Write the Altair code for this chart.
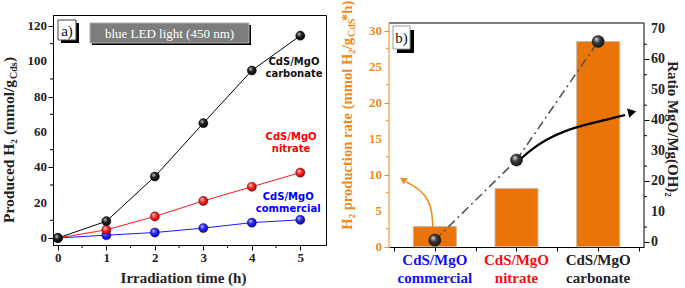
import altair as alt
import pandas as pd

# ---------------- data ----------------
hours = [0, 1, 2, 3, 4, 5]
h2_carbonate = [0.0, 9.5, 34.8, 65.0, 94.8, 114.5]
h2_nitrate = [0.0, 4.6, 12.2, 21.0, 29.0, 37.0]
h2_commercial = [0.0, 1.6, 3.1, 5.6, 8.7, 10.3]
series_names = ["carbonate", "nitrate", "commercial"]
series_colors = ["#000000", "#ff1a1a", "#1a1aff"]

label_text = ["CdS/MgO\ncarbonate", "CdS/MgO\nnitrate", "CdS/MgO\ncommercial"]
label_x = [4.87, 4.81, 4.75]
label_y = [99.6, 57.4, 23.2]
label_colors = ["#111111", "#ff0000", "#0000ff"]

samples = ["commercial", "nitrate", "carbonate"]
sample_pos = [0, 1, 2]
rate = [2.8, 8.1, 28.5]
ratio = [0.7, 27.0, 65.9]
sample_label = ["CdS/MgO\ncommercial", "CdS/MgO\nnitrate", "CdS/MgO\ncarbonate"]
sample_colors = ["#1010ee", "#ee1010", "#222222"]

# tick values
h_ticks = [0, 1, 2, 3, 4, 5]
h_minor = [0.5, 1.5, 2.5, 3.5, 4.5]
h2_ticks = [0, 20, 40, 60, 80, 100, 120]
h2_minor = [10, 30, 50, 70, 90, 110]
rate_ticks = [0, 5, 10, 15, 20, 25, 30]
rate_minor = [2.5, 7.5, 12.5, 17.5, 22.5, 27.5]
ratio_ticks = [0, 10, 20, 30, 40, 50, 60, 70]
ratio_minor = [5, 15, 25, 35, 45, 55, 65]

# curved annotation arrows (data coordinates of the right panel)
arrow_black_x = [1.035, 1.176, 1.353, 1.588, 1.882, 2.141, 2.33]
arrow_black_y = [27.0, 30.3, 33.6, 36.6, 38.9, 40.5, 41.8]
arrow_black_head = (2.40, 42.6, 76)
arrow_orange_x = [-0.024, -0.035, -0.082, -0.176, -0.294, -0.35]
arrow_orange_y = [2.75, 4.95, 6.6, 7.84, 8.67, 9.0]
arrow_orange_head = (-0.38, 9.25, 300)

ORANGE = "#f28a1a"
SERIF = "Liberation Serif"

# ---------------- helpers ----------------
def ball(light, mid, dark):
    return alt.RadialGradient(
        gradient="radial",
        stops=[alt.GradientStop(offset=0, color=light),
               alt.GradientStop(offset=0.45, color=mid),
               alt.GradientStop(offset=1, color=dark)],
        x1=0.35, y1=0.3, r1=0, x2=0.45, y2=0.45, r2=0.6)

def box(x, x2, y, y2, fill, stroke=None):
    kw = dict(fill=fill)
    if stroke:
        kw.update(stroke=stroke, strokeWidth=1)
    return alt.Chart().mark_rect(**kw).encode(
        x=alt.value(x), x2=alt.value(x2), y=alt.value(y), y2=alt.value(y2))

def txt(s, x, y, **kw):
    return alt.Chart().mark_text(text=s, **kw).encode(x=alt.value(x), y=alt.value(y))

def minor_y(vals, scale, x0, x1, color):
    return alt.Chart(pd.DataFrame({"v": vals})).mark_rule(color=color, strokeWidth=1).encode(
        y=alt.Y("v:Q", scale=scale), x=alt.value(x0), x2=alt.value(x1))

def minor_x(vals, scale, y0, y1, color):
    return alt.Chart(pd.DataFrame({"v": vals})).mark_rule(color=color, strokeWidth=1).encode(
        x=alt.X("v:Q", scale=scale), y=alt.value(y0), y2=alt.value(y1))

def y_labels(vals, scale, x, align, color, size):
    return alt.Chart(pd.DataFrame({"v": vals})).mark_text(
        font=SERIF, fontWeight="bold", fontSize=size, align=align, baseline="middle", color=color
    ).encode(y=alt.Y("v:Q", scale=scale), x=alt.value(x), text=alt.Text("v:Q", format="d"))

# ---------------- left panel ----------------
LW, LH = 273, 230
df_h2 = pd.DataFrame({
    "hour": hours * 3,
    "h2": h2_carbonate + h2_nitrate + h2_commercial,
    "series": sum([[s] * len(hours) for s in series_names], []),
})
xs = alt.Scale(domain=[-0.1, 5.53], nice=False, zero=False)
ys = alt.Scale(domain=[-3.96, 126.2], nice=False, zero=False)

x_axis_l = alt.Axis(
    values=h_ticks, format="d", labelOverlap=False,
    title="Irradiation time (h)", titleFont=SERIF, titleFontSize=15, titleFontWeight="bold",
    titleColor="#222", titlePadding=6, titleX=130,
    labelFont=SERIF, labelFontSize=13, labelFontWeight="bold", labelColor="#222",
    labelPadding=1, grid=False, domainColor="#000", tickColor="#000", tickSize=5,
)
y_axis_l = alt.Axis(
    values=h2_ticks, labels=False, title=None, grid=False,
    domainColor="#000", tickColor="#000", tickSize=5,
)

base_l = alt.Chart(df_h2)
lines = base_l.mark_line(strokeWidth=1).encode(
    x=alt.X("hour:Q", scale=xs, axis=x_axis_l),
    y=alt.Y("h2:Q", scale=ys, axis=y_axis_l),
    color=alt.Color("series:N", scale=alt.Scale(domain=series_names, range=series_colors), legend=None),
)
ball_styles = {
    "commercial": ball("#c8c8ff", "#2a2aff", "#0000a0"),
    "nitrate": ball("#ffd0d0", "#ff2a2a", "#a00000"),
    "carbonate": ball("#d0d0d0", "#202020", "#000000"),
}
points = [
    base_l.transform_filter(alt.datum.series == s).mark_point(
        filled=True, size=85, fill=ball_styles[s], stroke="#111", strokeWidth=0.4, opacity=1
    ).encode(x=alt.X("hour:Q", scale=xs), y=alt.Y("h2:Q", scale=ys))
    for s in ["commercial", "nitrate", "carbonate"]
]
df_lab = pd.DataFrame({"x": label_x, "y": label_y, "t": label_text, "c": label_colors})
labels_l = alt.Chart(df_lab).mark_text(
    font="DejaVu Sans", fontWeight="bold", fontSize=10, lineBreak="\n", lineHeight=12,
    align="center", baseline="middle",
).encode(x=alt.X("x:Q", scale=xs), y=alt.Y("y:Q", scale=ys), text="t:N",
         color=alt.Color("c:N", scale=None))

deco_l = [
    minor_y(h2_minor, ys, -3, 0, "#000"),
    minor_x(h_minor, xs, LH, LH + 3, "#000"),
    y_labels(h2_ticks, ys, -6, "right", "#222", 13),
    box(8, 26, 8, 28, "#000"),
    box(5, 23, 5, 25, "#fff", "#444"),
    txt("a)", 14, 15.5, font=SERIF, fontSize=15, baseline="middle", align="center", color="#111"),
    box(39, 198, 10, 30, "#000"),
    box(37, 196, 8, 28, "#7d7d7d", "#b0b0b0"),
    txt("blue LED light (450 nm)", 116.5, 18.5, font=SERIF, fontSize=13, baseline="middle",
        align="center", color="#fff"),
    txt("Produced H\u2082 (mmol/g", -39, 65, font=SERIF, fontSize=15.5, fontWeight="bold",
        angle=270, align="right", baseline="alphabetic", color="#222"),
    txt("Cds", -36, 64, font=SERIF, fontSize=10, fontWeight="bold",
        angle=270, align="left", baseline="alphabetic", color="#222"),
    txt(")", -39, 47, font=SERIF, fontSize=15.5, fontWeight="bold",
        angle=270, align="left", baseline="alphabetic", color="#222"),
]

left = alt.layer(lines, *points, labels_l, *deco_l).properties(
    width=LW, height=LH, view=alt.ViewBackground(stroke="#000", strokeWidth=1))

# ---------------- right panel ----------------
RW, RH = 255, 232
xr = alt.Scale(domain=[-0.5, 2.5], nice=False, zero=False)
yr_rate = alt.Scale(domain=[-0.04, 32.18], nice=False, zero=False)
yr_ratio = alt.Scale(domain=[-1.54, 74.6], nice=False, zero=False)

df_s = pd.DataFrame({"pos": sample_pos, "name": samples, "rate": rate, "ratio": ratio,
                     "lab": sample_label, "c": sample_colors})

x_axis_r = alt.Axis(
    values=[-0.5, 0, 0.5, 1, 1.5, 2, 2.5], labels=False, title=None, grid=False,
    domainColor="#000", tickColor="#000", tickSize=4,
)
y_axis_rate = alt.Axis(
    values=rate_ticks, labels=False, title=None, grid=False, domain=False,
    tickColor=ORANGE, tickSize=5,
)
y_axis_ratio = alt.Axis(
    values=ratio_ticks, orient="right", labels=False, title=None, grid=False, domain=False,
    tickColor="#000", tickSize=5,
)

base_r = alt.Chart(df_s)
bars = base_r.mark_bar(size=43, fill="#ea7406", stroke="#c9b8a8", strokeWidth=1).encode(
    x=alt.X("pos:Q", scale=xr, axis=x_axis_r),
    y=alt.Y("rate:Q", scale=yr_rate, axis=y_axis_rate),
    y2=alt.datum(0),
)
df_ao = pd.DataFrame({"x": arrow_orange_x, "y": arrow_orange_y, "i": range(len(arrow_orange_x))})
arrow_o = alt.Chart(df_ao).mark_line(color=ORANGE, strokeWidth=1.6, interpolate="basis").encode(
    x=alt.X("x:Q", scale=xr), y=alt.Y("y:Q", scale=yr_rate), order="i:Q")
head_o = alt.Chart(pd.DataFrame({"x": [arrow_orange_head[0]], "y": [arrow_orange_head[1]]})).mark_point(
    shape="triangle", filled=True, size=55, color=ORANGE, opacity=1, angle=arrow_orange_head[2]
).encode(x=alt.X("x:Q", scale=xr), y=alt.Y("y:Q", scale=yr_rate))

ratio_line = base_r.mark_line(color="#555", strokeWidth=1.6, strokeDash=[9, 4, 2, 4]).encode(
    x=alt.X("pos:Q", scale=xr), y=alt.Y("ratio:Q", scale=yr_ratio, axis=y_axis_ratio))
df_ab = pd.DataFrame({"x": arrow_black_x, "y": arrow_black_y, "i": range(len(arrow_black_x))})
arrow_b = alt.Chart(df_ab).mark_line(color="#000", strokeWidth=2.2, interpolate="basis").encode(
    x=alt.X("x:Q", scale=xr), y=alt.Y("y:Q", scale=yr_ratio), order="i:Q")
head_b = alt.Chart(pd.DataFrame({"x": [arrow_black_head[0]], "y": [arrow_black_head[1]]})).mark_point(
    shape="triangle", filled=True, size=90, color="#000", opacity=1, angle=arrow_black_head[2]
).encode(x=alt.X("x:Q", scale=xr), y=alt.Y("y:Q", scale=yr_ratio))
ratio_pts = base_r.mark_point(filled=True, size=150, fill=ball("#e0e0e0", "#3a3a3a", "#111111"),
                              stroke="#111", strokeWidth=0.4, opacity=1).encode(
    x=alt.X("pos:Q", scale=xr), y=alt.Y("ratio:Q", scale=yr_ratio))
ratio_minor_ticks = minor_y(ratio_minor, yr_ratio, RW, RW + 3, "#000")
ratio_tick_labels = y_labels(ratio_ticks, yr_ratio, RW + 7, "left", "#222", 14)

cat_labels = base_r.mark_text(
    font=SERIF, fontSize=15, fontWeight="bold", lineBreak="\n", lineHeight=18,
    align="center", baseline="top",
).encode(x=alt.X("pos:Q", scale=xr), y=alt.value(238), text="lab:N",
         color=alt.Color("c:N", scale=None))

frame_r = [
    alt.Chart().mark_rule(color="#000", strokeWidth=1).encode(
        x=alt.value(0), x2=alt.value(RW), y=alt.value(8)),
    alt.Chart().mark_rule(color=ORANGE, strokeWidth=1).encode(
        x=alt.value(0), y=alt.value(8), y2=alt.value(RH)),
    alt.Chart().mark_rule(color="#000", strokeWidth=1).encode(
        x=alt.value(RW), y=alt.value(8), y2=alt.value(RH)),
    minor_y(rate_minor, yr_rate, -3, 0, ORANGE),
    y_labels(rate_ticks, yr_rate, -7, "right", ORANGE, 13),
]
deco_r = [
    box(8, 25, 15, 38, "#000"),
    box(4, 21, 11, 34, "#fff", "#999"),
    txt("b)", 12.5, 22.5, font=SERIF, fontSize=15, baseline="middle", align="center", color="#111"),
    txt("H\u2082 production rate (mmol H\u2082/g", -37, 23, font=SERIF, fontSize=14.6,
        fontWeight="bold", angle=270, align="right", baseline="alphabetic", color=ORANGE),
    txt("CdS", -34, 22, font=SERIF, fontSize=10, fontWeight="bold", angle=270,
        align="left", baseline="alphabetic", color=ORANGE),
    txt("*h)", -37, 6, font=SERIF, fontSize=14.6, fontWeight="bold", angle=270,
        align="left", baseline="alphabetic", color=ORANGE),
    txt("Ratio MgO/Mg(OH)\u2082", 279, 114, font=SERIF, fontSize=15, fontWeight="bold",
        angle=90, align="center", baseline="alphabetic", color="#222"),
]

left_group = alt.layer(bars, arrow_o, head_o, cat_labels, *frame_r, *deco_r)
right_group = alt.layer(ratio_line, arrow_b, head_b, ratio_pts, ratio_minor_ticks, ratio_tick_labels)
right = alt.layer(left_group, right_group).resolve_scale(y="independent").properties(
    width=RW, height=RH)

chart = alt.hconcat(left, right, spacing=12).properties(
    padding={"left": 1, "top": 0, "right": 0, "bottom": 0}
).configure_view(stroke=None)

chart.save("out.html", embed_options={"renderer": "svg", "actions": False})
